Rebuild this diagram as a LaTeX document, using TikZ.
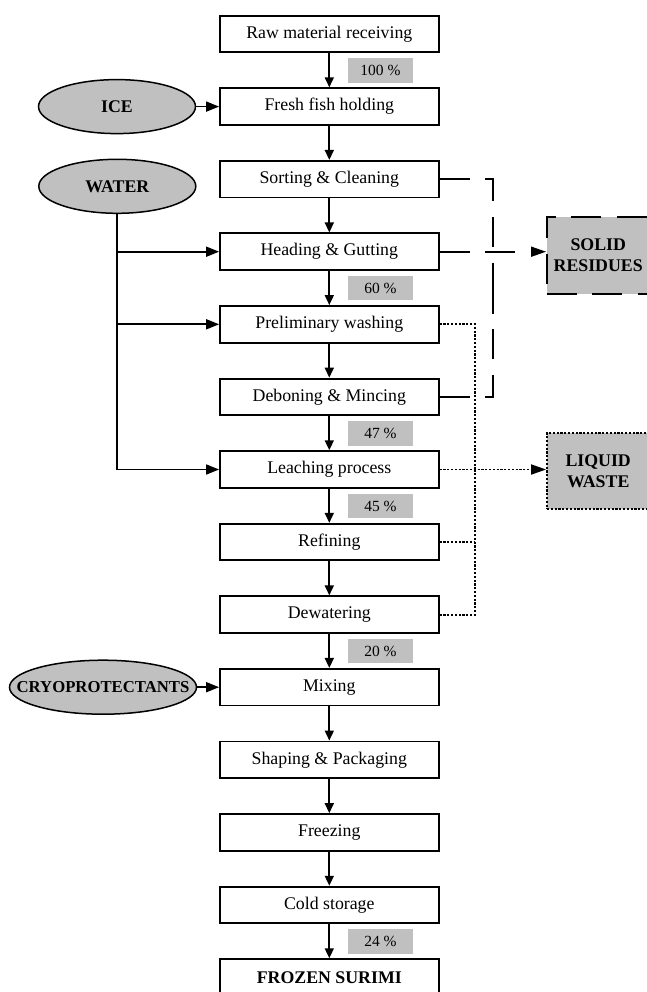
\documentclass[tikz,border=0pt]{standalone}
\usepackage{fontspec}
\setmainfont{Liberation Serif}
\usetikzlibrary{shapes.geometric,arrows.meta}
\definecolor{fillgray}{HTML}{C0C0C0}
\begin{document}
\begin{tikzpicture}[x=1pt,y=-1pt,
  proc/.style={draw,line width=1.9pt,minimum width=218.5pt,minimum height=36.6pt,inner sep=0pt,fill=white,font=\fontsize{17.8}{20}\selectfont},
  pct/.style={fill=fillgray,minimum width=65pt,minimum height=24.5pt,inner sep=0pt,font=\fontsize{15.5}{18}\selectfont},
  src/.style={ellipse,draw,line width=1.5pt,fill=fillgray,inner sep=0pt},
  srctext/.style={font=\bfseries\fontsize{17.8}{20}\selectfont,inner sep=0pt},
  waste/.style={fill=fillgray,minimum width=102.5pt,inner sep=0pt,align=center,font=\bfseries\fontsize{17.8}{21}\selectfont},
  flow/.style={line width=1.7pt,-{Triangle[length=10pt,width=9pt]}},
  hflow/.style={line width=1.7pt,-{Triangle[length=13pt,width=10pt]}},
  dashline/.style={line width=1.6pt,dash pattern=on 30pt off 15.5pt},
  dotline/.style={line width=1.8pt,dash pattern=on 2.2pt off 1.6pt}
]
\useasboundingbox (0,0) rectangle (647,992);

% process boxes
\node[proc] (raw)   at (329.3,34.0)  {Raw material receiving};
\node[proc] (fresh) at (329.3,106.6) {Fresh fish holding};
\node[proc] (sort)  at (329.3,179.2) {Sorting \& Cleaning};
\node[proc] (head)  at (329.3,251.7) {Heading \& Gutting};
\node[proc] (prel)  at (329.3,324.3) {Preliminary washing};
\node[proc] (debon) at (329.3,396.9) {Deboning \& Mincing};
\node[proc] (leach) at (329.3,469.5) {Leaching process};
\node[proc] (refin) at (329.3,542.1) {Refining};
\node[proc] (dewat) at (329.3,614.6) {Dewatering};
\node[proc] (mix)   at (329.3,687.2) {Mixing};
\node[proc] (shape) at (329.3,759.8) {Shaping \& Packaging};
\node[proc] (freez) at (329.3,832.4) {Freezing};
\node[proc] (cold)  at (329.3,905.0) {Cold storage};
\node[proc,font=\bfseries\fontsize{17.8}{20}\selectfont] (surimi) at (329.3,977.5) {FROZEN SURIMI};

% main flow arrows
\draw[flow] (raw) -- (fresh);
\draw[flow] (fresh) -- (sort);
\draw[flow] (sort) -- (head);
\draw[flow] (head) -- (prel);
\draw[flow] (prel) -- (debon);
\draw[flow] (debon) -- (leach);
\draw[flow] (leach) -- (refin);
\draw[flow] (refin) -- (dewat);
\draw[flow] (dewat) -- (mix);
\draw[flow] (mix) -- (shape);
\draw[flow] (shape) -- (freez);
\draw[flow] (freez) -- (cold);
\draw[flow] (cold) -- (surimi);

% yield labels
\node[pct] (p100) at (380.5,70.5)  {100 \%};
\node[pct] (p60)  at (380.5,288.2) {60 \%};
\node[pct] (p47)  at (380.5,433.4) {47 \%};
\node[pct] (p45)  at (380.5,506.0) {45 \%};
\node[pct] (p20)  at (380.5,651.1) {20 \%};
\node[pct] (p24)  at (380.5,941.5) {24 \%};

% inputs
\node[src,minimum width=157pt,minimum height=54pt] (ice) at (117,106.6) {};
\node[srctext] (icet) at (ice) {ICE};
\node[src,minimum width=157pt,minimum height=54pt] (water) at (117.3,186.3) {};
\node[srctext] (watert) at (water) {WATER};
\node[src,minimum width=187pt,minimum height=54pt] (cryo) at (103,687.2) {};
\node[srctext,font=\bfseries\fontsize{16.7}{20}\selectfont] (cryot) at (cryo) {CRYOPROTECTANTS};

\draw[hflow] (ice) -- (fresh);
\draw[hflow] (cryo) -- (mix);
\draw[line width=1.7pt] (water.south) -- (water.south |- leach.west);
\draw[hflow] (water.south |- head.west) -- (head.west);
\draw[hflow] (water.south |- prel.west) -- (prel.west);
\draw[hflow] (water.south |- leach.west) -- (leach.west);

% outputs
\node[waste,draw,line width=1.8pt,dash pattern=on 30pt off 15.5pt,minimum height=77pt] (solid) at (598.2,255.5) {SOLID\\RESIDUES};
\node[waste,draw,line width=1.8pt,dash pattern=on 2.2pt off 1.6pt,minimum height=76.6pt] (liquid) at (598.2,471.0) {LIQUID\\WASTE};

\coordinate (bm) at (492.7,288);
\draw[dashline] (sort.east) -| (bm);
\draw[dashline] (debon.east) -| (bm);
\draw[dashline,-{Triangle[length=15pt,width=10pt]}] (head.east) -- (head.east -| solid.west);

\coordinate (dm) at (475,469.5);
\draw[dotline] (prel.east) -| (dm);
\draw[dotline] (dewat.east) -| (dm);
\draw[dotline] (refin.east) -- (refin.east -| dm);
\draw[dotline,-{Triangle[length=15pt,width=10pt]}] (leach.east) -- (leach.east -| liquid.west);
\end{tikzpicture}
\end{document}
